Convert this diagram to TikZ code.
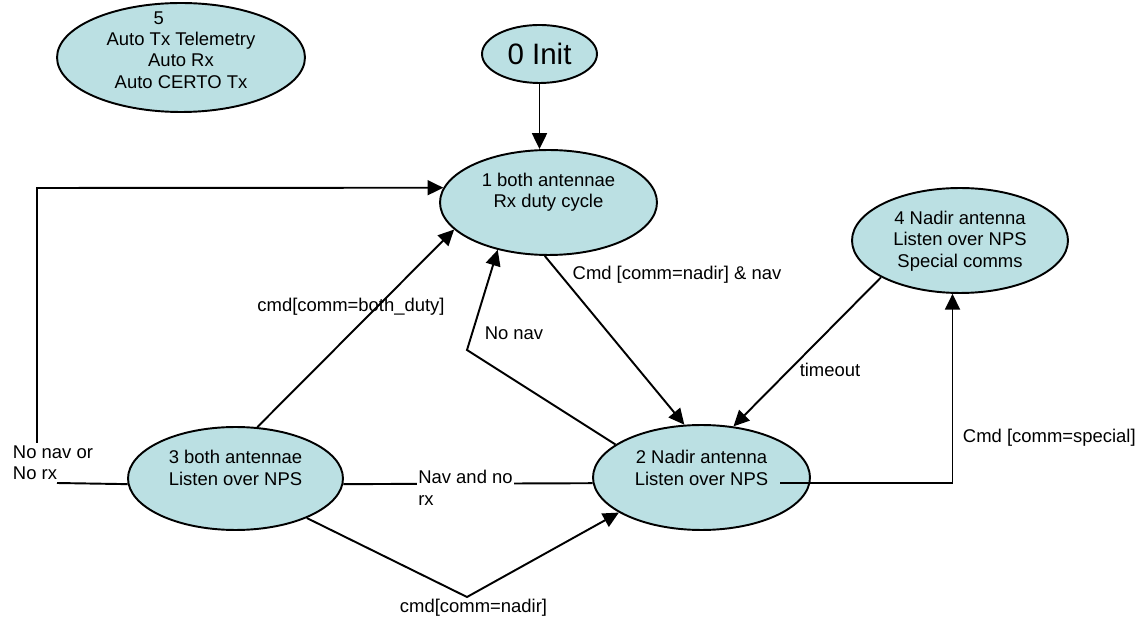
\documentclass[tikz,border=0pt]{standalone}
\usepackage{fontspec}
\setmainfont{Liberation Sans}
\usetikzlibrary{shapes.geometric,arrows.meta}
\definecolor{stfill}{RGB}{187,224,227}

\begin{document}
\begin{tikzpicture}[x=0.02cm, y=-0.02cm, line width=1.1pt,
        state/.style={ellipse, draw, fill=stfill, inner sep=0pt},
        txt/.style={font=\fontsize{10.5}{12.2}\selectfont, align=center, inner sep=0pt},
        trans/.style={-{Triangle[length=9pt,width=8.5pt]}}]
        \useasboundingbox (0,0) rectangle (1143,624);

        \node[state, minimum width=4.96cm, minimum height=2.18cm] (s5) at (181,57.5) {};
        \node[txt] (s5t) at (181,50) {5\hspace*{2.4em}\\Auto Tx Telemetry\\Auto Rx\\Auto CERTO Tx};

        \node[state, minimum width=2.3cm, minimum height=1.16cm, font=\fontsize{16.8}{20}\selectfont] (s0) at (539.5,54) {0 Init};

        \node[state, minimum width=4.34cm, minimum height=2.1cm] (s1) at (548.5,202.5) {};
        \node[txt] (s1t) at (548.5,192.5) {1 both antennae\\Rx duty cycle};

        \node[state, minimum width=4.34cm, minimum height=2.1cm] (s2) at (701.5,477.5) {};
        \node[txt] (s2t) at (701.5,468) {2 Nadir antenna\\Listen over NPS};

        \node[state, minimum width=4.3cm, minimum height=2.06cm] (s3) at (235.5,478.5) {};
        \node[txt] (s3t) at (235.5,468) {3 both antennae\\Listen over NPS};

        \node[state, minimum width=4.32cm, minimum height=2.1cm] (s4) at (960,240.5) {};
        \node[txt] (s4t) at (960,241) {4 Nadir antenna\\Listen over NPS\\Special comms};

        \coordinate (lp1) at (57,483);
        \coordinate (lp2) at (37,443);
        \coordinate (lp3) at (37,188);
        \coordinate (nn) at (467,350);
        \coordinate (sp) at (780,483);
        \coordinate (vb) at (467,597);

        \draw[trans] (s0.south) -- (s0.south |- s1.north);

        \draw (s3.183) -- (lp1);
        \draw[trans] (lp2) -- (lp3) -- (s1.172);
        \node[txt, align=left, anchor=west] (l1) at (12,463) {No nav or\\No rx};

        \draw[trans] (s3.67) -- (s1.196);
        \node[txt] (l2) at (351,307) {cmd[comm=both\_duty]};

        \draw[trans] (s1.266) -- (s2.108);
        \node[txt] (l3) at (677,275) {Cmd [comm=nadir] \& nav};

        \draw[trans] (s2.159) -- (nn) -- (s1.223);
        \node[txt] (l4) at (514,333) {No nav};

        \draw[trans] (s4.205) -- (s2.58);
        \node[txt] (l5) at (830,370) {timeout};

        \draw[trans] (sp) -| (s4.262);
        \node[txt, anchor=west] (l6) at (962,438) {Cmd [comm=special]};

        \draw (s3.-3) -- (s2.183);
        \node[txt, align=left, fill=white, inner xsep=1pt, inner ysep=3pt] (l7) at (465.5,488) {Nav and no\\rx};

        \draw[trans] (s3.-29) -- (vb) -- (s2.203);
        \node[txt] (l8) at (473.5,608) {cmd[comm=nadir]};

    \end{tikzpicture}
\end{document}
